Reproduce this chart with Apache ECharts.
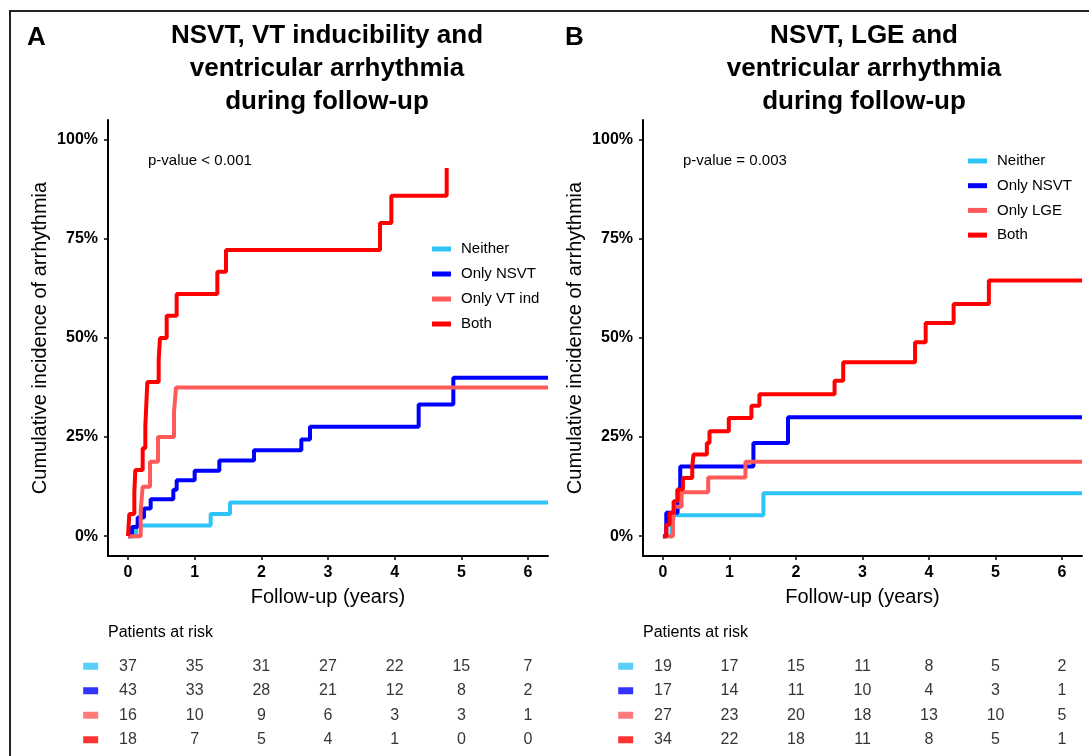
<!DOCTYPE html>
<html>
<head>
<meta charset="utf-8">
<script src="https://cdn.jsdelivr.net/npm/echarts@6/dist/echarts.min.js"></script>
<style>
html,body{margin:0;padding:0;background:#fff;}
#chart{width:1089px;height:756px;}
</style>
</head>
<body>
<div id="chart"></div>
<script>
// ---------- data ----------
const xTicks = [0, 1, 2, 3, 4, 5, 6];
const yTicks = [0, 0.25, 0.5, 0.75, 1];
const groupsA = ['Neither', 'Only NSVT', 'Only VT ind', 'Both'];
const groupsB = ['Neither', 'Only NSVT', 'Only LGE', 'Both'];
const colors = ['#2EC4F7', '#0000FF', '#FF5A5A', '#FF0000'];

// Panel A: [years, cumulative incidence]
const aNeither = [[0,0],[0.12,0.027],[1.24,0.056],[1.53,0.085],[6.3,0.085]];
const aOnlyNSVT = [[0,0],[0.06,0.023],[0.145,0.047],[0.24,0.070],[0.34,0.093],[0.68,0.117],[0.73,0.141],[1.0,0.165],[1.37,0.191],[1.89,0.217],[2.60,0.244],[2.73,0.276],[4.36,0.332],[4.88,0.400],[6.3,0.400]];
const aOnlyVT = [[0,0],[0.19,0.0625],[0.22,0.125],[0.33,0.1875],[0.45,0.25],[0.69,0.3125],[0.72,0.375],[6.3,0.375]];
const aBoth = [[0,0],[0.02,0.056],[0.095,0.111],[0.11,0.167],[0.22,0.222],[0.26,0.278],[0.29,0.389],[0.46,0.444],[0.48,0.5],[0.58,0.556],[0.73,0.611],[1.34,0.667],[1.47,0.722],[3.78,0.79],[3.95,0.859],[4.78,0.929]];

// Panel B
const bNeither = [[0,0],[0.13,0.053],[1.51,0.108],[6.3,0.108]];
const bOnlyNSVT = [[0,0],[0.05,0.059],[0.22,0.118],[0.26,0.176],[1.36,0.235],[1.88,0.30],[6.3,0.30]];
const bOnlyLGE = [[0,0],[0.15,0.037],[0.17,0.074],[0.28,0.111],[0.68,0.148],[1.24,0.188],[6.3,0.188]];
const bBoth = [[0,0],[0.05,0.029],[0.10,0.059],[0.16,0.088],[0.22,0.118],[0.30,0.147],[0.44,0.176],[0.46,0.206],[0.66,0.235],[0.70,0.265],[0.99,0.298],[1.33,0.329],[1.45,0.358],[2.58,0.392],[2.71,0.439],[3.79,0.489],[3.95,0.538],[4.37,0.586],[4.90,0.645],[6.3,0.645]];

// Patients at risk (at years 0..6)
const riskA_Neither = [37, 35, 31, 27, 22, 15, 7];
const riskA_OnlyNSVT = [43, 33, 28, 21, 12, 8, 2];
const riskA_OnlyVT = [16, 10, 9, 6, 3, 3, 1];
const riskA_Both = [18, 7, 5, 4, 1, 0, 0];
const riskB_Neither = [19, 17, 15, 11, 8, 5, 2];
const riskB_OnlyNSVT = [17, 14, 11, 10, 4, 3, 1];
const riskB_OnlyLGE = [27, 23, 20, 18, 13, 10, 5];
const riskB_Both = [34, 22, 18, 11, 8, 5, 1];

// ---------- build ----------
const FONT = '"Liberation Sans", Arial, sans-serif';
const curvesA = [aNeither, aOnlyNSVT, aOnlyVT, aBoth];
const curvesB = [bNeither, bOnlyNSVT, bOnlyLGE, bBoth];
const riskA = [riskA_Neither, riskA_OnlyNSVT, riskA_OnlyVT, riskA_Both];
const riskB = [riskB_Neither, riskB_OnlyNSVT, riskB_OnlyLGE, riskB_Both];

function plotX(idx, show) {
  return {
    type: 'value', gridIndex: idx, min: -0.3, max: 6.3, show: show,
    name: 'Follow-up (years)', nameLocation: 'middle', nameGap: 31,
    nameTextStyle: { fontFamily: FONT, fontSize: 20, color: '#000' },
    axisLine: { show: true, onZero: false, lineStyle: { color: '#000', width: 2 } },
    axisTick: { show: true, customValues: xTicks, length: 4, lineStyle: { color: '#000', width: 1.5 } },
    axisLabel: { customValues: xTicks, margin: 9, fontFamily: FONT, fontSize: 16, fontWeight: 'bold', color: '#000' },
    splitLine: { show: false }
  };
}
function plotY(idx) {
  return {
    type: 'value', gridIndex: idx, min: -0.05, max: 1.05,
    name: 'Cumulative incidence of arrhythmia', nameLocation: 'middle', nameGap: 58,
    nameTextStyle: { fontFamily: FONT, fontSize: 20, color: '#000' },
    axisLine: { show: true, onZero: false, lineStyle: { color: '#000', width: 2 } },
    axisTick: { show: true, customValues: yTicks, length: 4, lineStyle: { color: '#000', width: 1.5 } },
    axisLabel: { customValues: yTicks, margin: 10, fontFamily: FONT, fontSize: 16, fontWeight: 'bold', color: '#000',
      formatter: v => Math.round(v * 100) + '%' },
    splitLine: { show: false }
  };
}
function riskX(idx) {
  return { type: 'value', gridIndex: idx, min: -0.3, max: 6.3, show: false };
}
function riskY(idx, cats) {
  return { type: 'category', gridIndex: idx, data: cats, inverse: true, show: false };
}

const series = [];
function addCurves(curves, names, axis) {
  curves.forEach((d, i) => {
    series.push({
      type: 'line', name: names[i], xAxisIndex: axis, yAxisIndex: axis,
      data: d, step: 'end', showSymbol: false, symbol: 'none', silent: true,
      lineStyle: { width: 4, color: colors[i] }, itemStyle: { color: colors[i] },
      z: 2 + i
    });
  });
}
addCurves(curvesA, groupsA, 0);
addCurves(curvesB, groupsB, 1);

function addRisk(risk, names, axis) {
  const nums = [];
  risk.forEach((row, r) => row.forEach((n, k) => nums.push([xTicks[k], r, n])));
  series.push({
    type: 'scatter', xAxisIndex: axis, yAxisIndex: axis, data: nums, symbolSize: 1,
    itemStyle: { color: 'rgba(0,0,0,0)' }, silent: true,
    label: { show: true, position: 'inside', formatter: p => String(p.value[2]),
      fontFamily: FONT, fontSize: 16, color: '#000' }
  });
  series.push({
    type: 'scatter', xAxisIndex: axis, yAxisIndex: axis, clip: false, silent: true,
    symbol: 'rect', symbolSize: [15, 7],
    data: names.map((nm, r) => ({ value: [-0.56, r], itemStyle: { color: colors[r] } }))
  });
}
addRisk(riskA, groupsA, 2);
addRisk(riskB, groupsB, 3);

function legend(names, left, top, gap) {
  return {
    data: names, orient: 'vertical', left: left, top: top, itemWidth: 19, itemHeight: 5,
    icon: 'rect', itemGap: gap, selectedMode: false,
    textStyle: { fontFamily: FONT, fontSize: 15, color: '#000', lineHeight: 16, padding: [0, 0, 0, 5] }
  };
}

function txt(text, x, y, font, align, vAlign, lh) {
  return { type: 'text', x: x, y: y, silent: true,
    style: { text: text, font: font, fill: '#000', textAlign: align, textVerticalAlign: vAlign, lineHeight: lh } };
}

const option = {
  animation: false,
  backgroundColor: '#fff',
  grid: [
    { left: 108, top: 120, width: 440, height: 436 },
    { left: 643, top: 120, width: 439, height: 436 },
    { left: 108, top: 654, width: 440, height: 98 },
    { left: 643, top: 654, width: 439, height: 98 }
  ],
  xAxis: [plotX(0, true), plotX(1, true), riskX(2), riskX(3)],
  yAxis: [plotY(0), plotY(1), riskY(2, groupsA), riskY(3, groupsB)],
  legend: [legend(groupsA, 427, 236, 9), legend(groupsB, 963, 148, 8.7)],
  series: series,
  graphic: [
    { type: 'rect', silent: true, shape: { x: 10, y: 11, width: 1200, height: 900 },
      style: { fill: 'none', stroke: '#222', lineWidth: 2 } },
    txt('A', 27, 38, 'bold 26px ' + FONT, 'left', 'middle'),
    txt('B', 565, 38, 'bold 26px ' + FONT, 'left', 'middle'),
    txt('NSVT, VT inducibility and\nventricular arrhythmia\nduring follow-up', 327, 19, 'bold 26px ' + FONT, 'center', 'top', 33),
    txt('NSVT, LGE and\nventricular arrhythmia\nduring follow-up', 864, 19, 'bold 26px ' + FONT, 'center', 'top', 33),
    txt('p-value < 0.001', 148, 161, '15px ' + FONT, 'left', 'middle'),
    txt('p-value = 0.003', 683, 161, '15px ' + FONT, 'left', 'middle'),
    txt('Patients at risk', 108, 633, '16px ' + FONT, 'left', 'middle'),
    txt('Patients at risk', 643, 633, '16px ' + FONT, 'left', 'middle')
  ]
};

const chart = echarts.init(document.getElementById('chart'), null, { renderer: 'canvas' });
chart.setOption(option);
</script>
</body>
</html>
